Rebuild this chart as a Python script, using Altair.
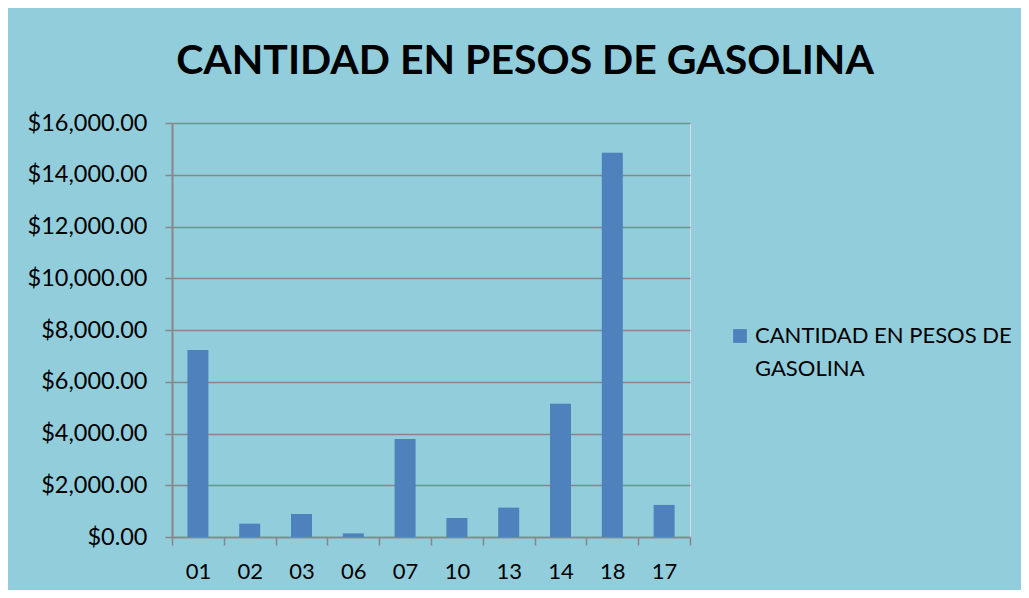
import altair as alt
import pandas as pd

categorias = ["01", "02", "03", "06", "07", "10", "13", "14", "18", "17"]
valores = [7230, 515, 890, 140, 3790, 735, 1135, 5145, 14850, 1240]
serie = "CANTIDAD EN PESOS DE GASOLINA"
y_ticks = [0, 2000, 4000, 6000, 8000, 10000, 12000, 14000, 16000]

df = pd.DataFrame({"cat": categorias, "valor": valores, "serie": [serie] * len(categorias)})

FONT = "Lato"

chart = alt.Chart(df).mark_bar(size=21).encode(
    x=alt.X("cat:N", sort=None, title=None,
            scale=alt.Scale(paddingInner=0, paddingOuter=0),
            axis=alt.Axis(labelAngle=0, labelFontSize=22, labelFont=FONT, labelColor="#000000",
                          tickBand="extent", tickSize=8, tickColor="#878787", tickWidth=1.5,
                          domainColor="#878787", domainWidth=1.5, labelPadding=16, grid=False)),
    y=alt.Y("valor:Q", title=None,
            scale=alt.Scale(domain=[0, 16000], nice=False),
            axis=alt.Axis(values=y_ticks, format="$,.2f", labelFontSize=23.5, labelFont=FONT,
                          labelColor="#000000", tickSize=7, tickColor="#878787", tickWidth=1.5,
                          domainColor="#878787", domainWidth=2, labelPadding=18,
                          gridColor="#878787", gridWidth=1.5)),
    color=alt.Color("serie:N", scale=alt.Scale(range=["#4F81BD"]), title=None,
                    legend=alt.Legend(orient="none", legendX=557, legendY=202,
                                      symbolType="square", symbolSize=190, symbolStrokeWidth=0,
                                      labelFontSize=22, labelFont=FONT, labelColor="#000000",
                                      labelLimit=0, labelOffset=4,
                                      labelExpr="['CANTIDAD EN PESOS DE', 'GASOLINA']")),
).properties(
    width=518,
    height=414,
    autosize="none",
    padding={"left": 164, "top": 115, "right": 331, "bottom": 53},
    background="#92CDDC",
    title=alt.TitleParams(serie, fontSize=41, font=FONT, fontWeight="bold", color="#000000",
                          anchor="middle", dx=94, offset=28),
).configure_view(fill="#B9CDE5", strokeWidth=0).configure(
    style={"guide-label": {"lineHeight": 33}}
)

chart.save("out.html", embed_options={"renderer": "svg", "actions": False})
